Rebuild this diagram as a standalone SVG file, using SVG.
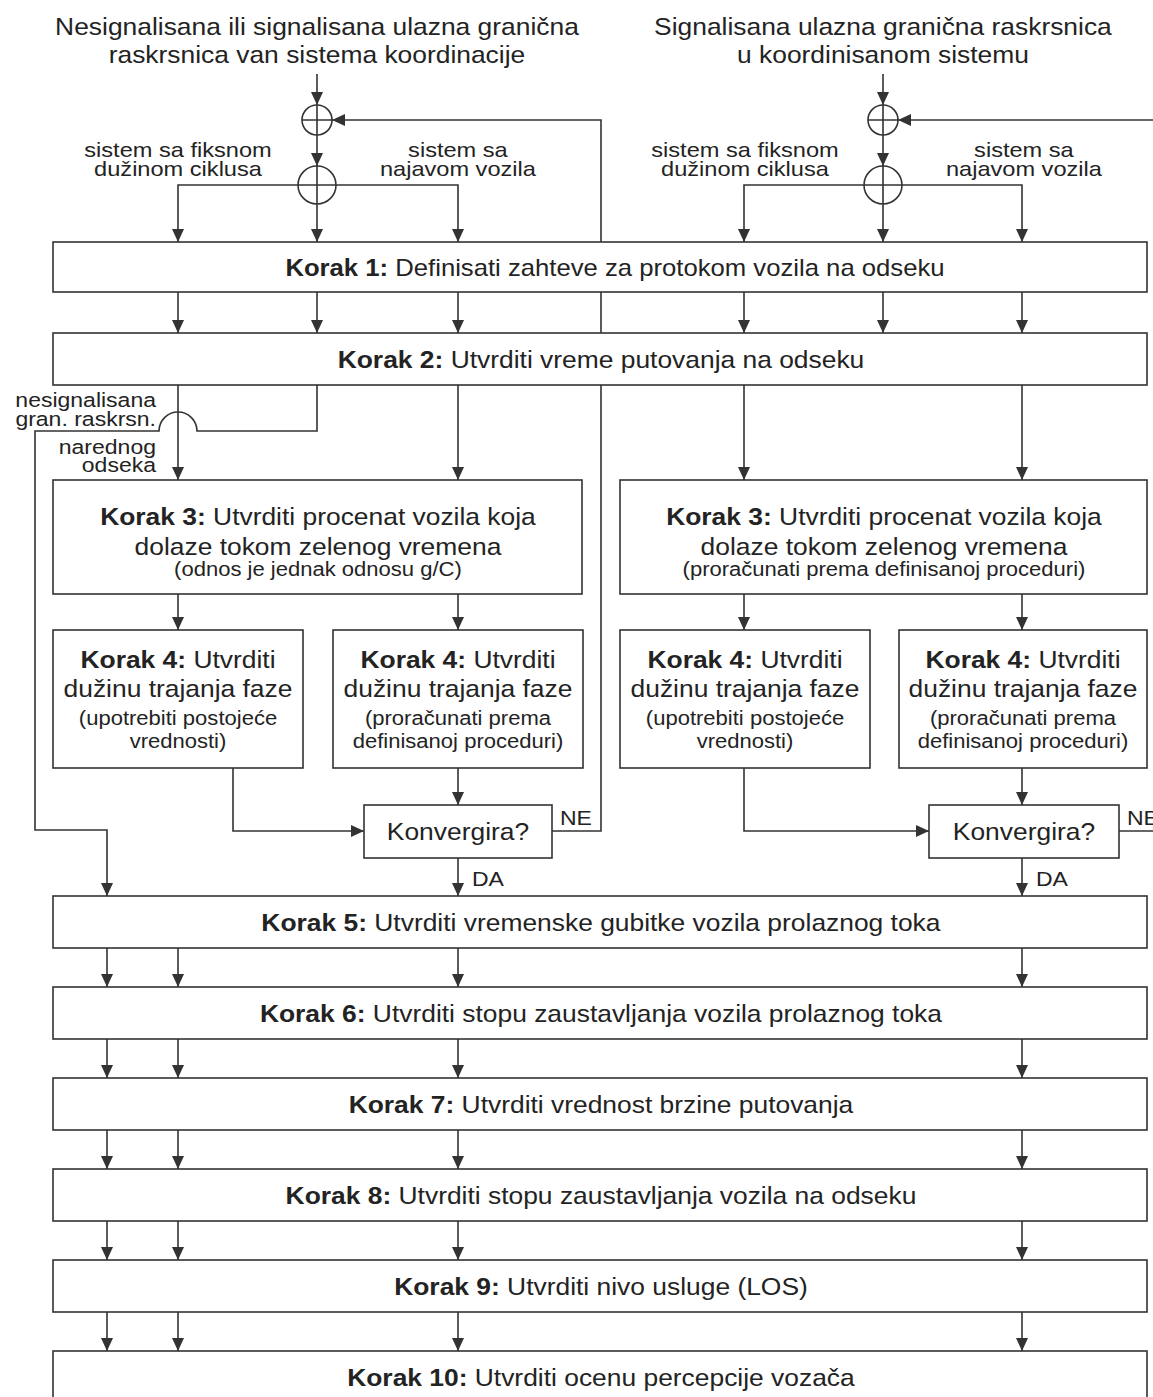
<svg xmlns="http://www.w3.org/2000/svg" width="1153" height="1397" viewBox="0 0 1153 1397">
<defs>
<marker id="ah" viewBox="0 0 13 12" refX="13" refY="6" markerWidth="13" markerHeight="12" markerUnits="userSpaceOnUse" orient="auto">
<path d="M0,0 L13,6 L0,12 z" fill="#333"/>
</marker>
<style>
.ln{fill:none;stroke:#333;stroke-width:1.6}
.ar{fill:none;stroke:#333;stroke-width:1.6;marker-end:url(#ah)}
.bx{fill:#fff;stroke:#333;stroke-width:1.6}
.cr{fill:none;stroke:#333;stroke-width:1.6}
text{font-family:"Liberation Sans",Arial,sans-serif;fill:#232323;transform-box:fill-box;transform-origin:center;transform:scaleX(1.1)}
.c{text-anchor:middle}
.r{text-anchor:end;transform-origin:right center}
.l{text-anchor:start;transform-origin:left center}
.t{font-size:24px}
.k{font-size:24px}
.k1{transform:scaleX(1.07)}
.s{font-size:19.5px;transform:scaleX(1.13)}
.lb{font-size:20px;transform:scaleX(1.18)}
.sm{font-size:19.5px;transform:scaleX(1.18)}
.b{font-weight:bold}
</style>
</defs>
<rect width="1153" height="1397" fill="#fff"/>

<g id="connectors">
<path class="ar" d="M317,74 V105"/>
<path class="ar" d="M317,135 V166"/>
<path class="ar" d="M317,204 V242"/>
<path class="ar" d="M298,185 H178 V242"/>
<path class="ar" d="M336,185 H458 V242"/>
<path class="ar" d="M552,831 H601 V120 H332"/>
<path class="ar" d="M883,74 V105"/>
<path class="ar" d="M883,135 V166"/>
<path class="ar" d="M883,204 V242"/>
<path class="ar" d="M864,185 H744 V242"/>
<path class="ar" d="M902,185 H1022 V242"/>
<path class="ar" d="M1153,120 H898"/>
<path class="ln" d="M1119,831 H1153"/>
<path class="ar" d="M178,292 V333"/>
<path class="ar" d="M317,292 V333"/>
<path class="ar" d="M458,292 V333"/>
<path class="ar" d="M744,292 V333"/>
<path class="ar" d="M883,292 V333"/>
<path class="ar" d="M1022,292 V333"/>
<path class="ar" d="M178,385 V480"/>
<path class="ar" d="M458,385 V480"/>
<path class="ar" d="M744,385 V480"/>
<path class="ar" d="M1022,385 V480"/>
<path class="ar" d="M317,385 V431 H197 A19,19 0 0 0 159,431 H35 V830 H107 V896"/>
<path class="ar" d="M178,594 V630"/>
<path class="ar" d="M458,594 V630"/>
<path class="ar" d="M744,594 V630"/>
<path class="ar" d="M1022,594 V630"/>
<path class="ar" d="M233,768 V831 H364"/>
<path class="ar" d="M458,768 V805"/>
<path class="ar" d="M744,768 V831 H929"/>
<path class="ar" d="M1022,768 V805"/>
<path class="ar" d="M458,858 V896"/>
<path class="ar" d="M1022,858 V896"/>
<path class="ar" d="M107,948 V987"/><path class="ar" d="M178,948 V987"/><path class="ar" d="M458,948 V987"/><path class="ar" d="M1022,948 V987"/>
<path class="ar" d="M107,1039 V1078"/><path class="ar" d="M178,1039 V1078"/><path class="ar" d="M458,1039 V1078"/><path class="ar" d="M1022,1039 V1078"/>
<path class="ar" d="M107,1130 V1169"/><path class="ar" d="M178,1130 V1169"/><path class="ar" d="M458,1130 V1169"/><path class="ar" d="M1022,1130 V1169"/>
<path class="ar" d="M107,1221 V1260"/><path class="ar" d="M178,1221 V1260"/><path class="ar" d="M458,1221 V1260"/><path class="ar" d="M1022,1221 V1260"/>
<path class="ar" d="M107,1312 V1351"/><path class="ar" d="M178,1312 V1351"/><path class="ar" d="M458,1312 V1351"/><path class="ar" d="M1022,1312 V1351"/>
<text class="c lb" x="178" y="157">sistem sa fiksnom<tspan x="178" dy="19">dužinom ciklusa</tspan></text>
<text class="c lb" x="458" y="157">sistem sa<tspan x="458" dy="19">najavom vozila</tspan></text>
<text class="c lb" x="745" y="157">sistem sa fiksnom<tspan x="745" dy="19">dužinom ciklusa</tspan></text>
<text class="c lb" x="1024" y="157">sistem sa<tspan x="1024" dy="19">najavom vozila</tspan></text>
<text class="r sm" x="156" y="407">nesignalisana<tspan x="156" dy="19">gran. raskrsn.</tspan></text>
<text class="r sm" x="156" y="454">narednog<tspan x="156" dy="18">odseka</tspan></text>
<text class="l sm" x="560" y="825">NE</text>
<text class="l sm" x="1127" y="825">NE</text>
<text class="l sm" x="472" y="886">DA</text>
<text class="l sm" x="1036" y="886">DA</text>
</g>

<g id="title-left"><text class="c t" x="317" y="35">Nesignalisana ili signalisana ulazna granična<tspan x="317" dy="28.5">raskrsnica van sistema koordinacije</tspan></text></g>
<g id="title-right"><text class="c t" x="883" y="35">Signalisana ulazna granična raskrsnica<tspan x="883" dy="28.5">u koordinisanom sistemu</tspan></text></g>

<g id="sum-left-1"><circle class="cr" cx="317" cy="120" r="15"/><path class="ln" d="M317,105 V135 M302,120 H332"/></g>
<g id="sum-left-2"><circle class="cr" cx="317" cy="185" r="19"/><path class="ln" d="M317,166 V204 M298,185 H336"/></g>
<g id="sum-right-1"><circle class="cr" cx="883" cy="120" r="15"/><path class="ln" d="M883,105 V135 M868,120 H898"/></g>
<g id="sum-right-2"><circle class="cr" cx="883" cy="185" r="19"/><path class="ln" d="M883,166 V204 M864,185 H902"/></g>

<g id="korak1"><rect class="bx" x="53" y="242" width="1094" height="50"/><text class="c k k1" x="615" y="276"><tspan class="b">Korak 1:</tspan> Definisati zahteve za protokom vozila na odseku</text></g>
<g id="korak2"><rect class="bx" x="53" y="333" width="1094" height="52"/><text class="c k" x="601" y="368"><tspan class="b">Korak 2:</tspan> Utvrditi vreme putovanja na odseku</text></g>

<g id="korak3-left"><rect class="bx" x="53" y="480" width="529" height="114"/>
<text class="c k" x="318" y="525"><tspan class="b">Korak 3:</tspan> Utvrditi procenat vozila koja</text>
<text class="c k" x="318" y="555">dolaze tokom zelenog vremena</text>
<text class="c s" x="318" y="576">(odnos je jednak odnosu g/C)</text></g>
<g id="korak3-right"><rect class="bx" x="620" y="480" width="527" height="114"/>
<text class="c k" x="884" y="525"><tspan class="b">Korak 3:</tspan> Utvrditi procenat vozila koja</text>
<text class="c k" x="884" y="555">dolaze tokom zelenog vremena</text>
<text class="c s" x="884" y="576">(proračunati prema definisanoj proceduri)</text></g>

<g id="korak4-a"><rect class="bx" x="53" y="630" width="250" height="138"/>
<text class="c k" x="178" y="668"><tspan class="b">Korak 4:</tspan> Utvrditi</text>
<text class="c k" x="178" y="697">dužinu trajanja faze</text>
<text class="c s" x="178" y="725">(upotrebiti postojeće</text>
<text class="c s" x="178" y="748">vrednosti)</text></g>
<g id="korak4-b"><rect class="bx" x="333" y="630" width="250" height="138"/>
<text class="c k" x="458" y="668"><tspan class="b">Korak 4:</tspan> Utvrditi</text>
<text class="c k" x="458" y="697">dužinu trajanja faze</text>
<text class="c s" x="458" y="725">(proračunati prema</text>
<text class="c s" x="458" y="748">definisanoj proceduri)</text></g>
<g id="korak4-c"><rect class="bx" x="620" y="630" width="250" height="138"/>
<text class="c k" x="745" y="668"><tspan class="b">Korak 4:</tspan> Utvrditi</text>
<text class="c k" x="745" y="697">dužinu trajanja faze</text>
<text class="c s" x="745" y="725">(upotrebiti postojeće</text>
<text class="c s" x="745" y="748">vrednosti)</text></g>
<g id="korak4-d"><rect class="bx" x="899" y="630" width="248" height="138"/>
<text class="c k" x="1023" y="668"><tspan class="b">Korak 4:</tspan> Utvrditi</text>
<text class="c k" x="1023" y="697">dužinu trajanja faze</text>
<text class="c s" x="1023" y="725">(proračunati prema</text>
<text class="c s" x="1023" y="748">definisanoj proceduri)</text></g>

<g id="konv-left"><rect class="bx" x="364" y="805" width="188" height="53"/><text class="c k" x="458" y="840">Konvergira?</text></g>
<g id="konv-right"><rect class="bx" x="929" y="805" width="190" height="53"/><text class="c k" x="1024" y="840">Konvergira?</text></g>

<g id="korak5"><rect class="bx" x="53" y="896" width="1094" height="52"/><text class="c k" x="601" y="931"><tspan class="b">Korak 5:</tspan> Utvrditi vremenske gubitke vozila prolaznog toka</text></g>
<g id="korak6"><rect class="bx" x="53" y="987" width="1094" height="52"/><text class="c k" x="601" y="1022"><tspan class="b">Korak 6:</tspan> Utvrditi stopu zaustavljanja vozila prolaznog toka</text></g>
<g id="korak7"><rect class="bx" x="53" y="1078" width="1094" height="52"/><text class="c k" x="601" y="1113"><tspan class="b">Korak 7:</tspan> Utvrditi vrednost brzine putovanja</text></g>
<g id="korak8"><rect class="bx" x="53" y="1169" width="1094" height="52"/><text class="c k" x="601" y="1204"><tspan class="b">Korak 8:</tspan> Utvrditi stopu zaustavljanja vozila na odseku</text></g>
<g id="korak9"><rect class="bx" x="53" y="1260" width="1094" height="52"/><text class="c k" x="601" y="1295"><tspan class="b">Korak 9:</tspan> Utvrditi nivo usluge (LOS)</text></g>
<g id="korak10"><rect class="bx" x="53" y="1351" width="1094" height="60"/><text class="c k" x="601" y="1386"><tspan class="b">Korak 10:</tspan> Utvrditi ocenu percepcije vozača</text></g>
</svg>
